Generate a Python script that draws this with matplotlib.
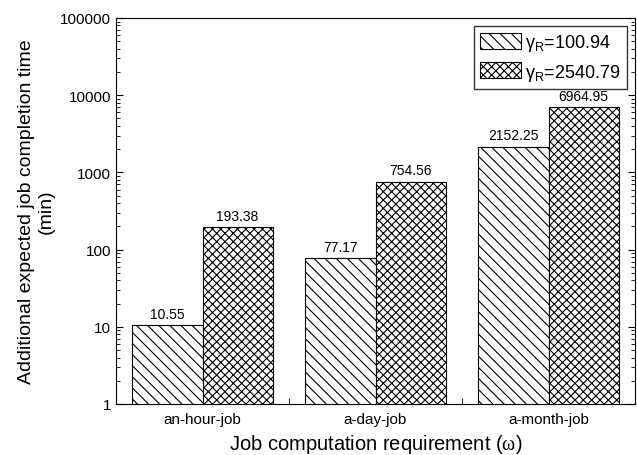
import numpy as np
import matplotlib
matplotlib.use('Agg')
import matplotlib.pyplot as plt
from matplotlib.ticker import LogLocator, NullFormatter, FixedLocator

plt.rcParams['font.family'] = ['Liberation Sans', 'DejaVu Sans']
plt.rcParams['mathtext.fontset'] = 'custom'
plt.rcParams['mathtext.rm'] = 'Liberation Sans'
plt.rcParams['mathtext.it'] = 'Liberation Serif'
plt.rcParams['hatch.linewidth'] = 0.8

categories = ['an-hour-job', 'a-day-job', 'a-month-job']
series_low = [10.55, 77.17, 2152.25]
series_high = [193.38, 754.56, 6964.95]
labels_low = ['10.55', '77.17', '2152.25']
labels_high = ['193.38', '754.56', '6964.95']
legend_names = [r'$\mathrm{\gamma_R}$=100.94', r'$\mathrm{\gamma_R}$=2540.79']

fig = plt.figure(figsize=(6.37, 4.56), dpi=100)
ax = fig.add_axes([116/637, 51/456, 519/637, 386/456])

x = np.arange(len(categories))
w = 0.405
ax.bar(x - w/2, series_low, w, color='white', edgecolor='black', hatch='\\\\\\', linewidth=0.8, label=legend_names[0])
ax.bar(x + w/2, series_high, w, color='white', edgecolor='black', hatch='xxxx', linewidth=0.8, label=legend_names[1])

for xi, v, s in zip(x - w/2, series_low, labels_low):
    ax.text(xi, v * 1.14, s, ha='center', va='bottom', fontsize=10)
for xi, v, s in zip(x + w/2, series_high, labels_high):
    ax.text(xi, v * 1.14, s, ha='center', va='bottom', fontsize=10)

ax.set_yscale('log')
ax.set_ylim(1, 100000)
ax.set_xlim(-0.5, 2.5)
ax.yaxis.set_major_locator(FixedLocator([1, 10, 100, 1000, 10000, 100000]))
ax.set_yticklabels(['1', '10', '100', '1000', '10000', '100000'])
ax.yaxis.set_minor_locator(LogLocator(base=10, subs=np.arange(2, 10)))
ax.yaxis.set_minor_formatter(NullFormatter())
ax.set_xticks(x)
ax.set_xticklabels(categories)
ax.set_xticks([0.5, 1.5], minor=True)
ax.tick_params(axis='y', which='major', direction='in', labelsize=11, length=5)
ax.tick_params(axis='y', which='minor', direction='in', length=3)
ax.tick_params(axis='x', which='major', length=0, pad=6, labelsize=11)
ax.tick_params(axis='x', which='minor', direction='in', length=4)
ax.tick_params(right=True, top=False, which='both')

ax.set_xlabel(r'Job computation requirement ($\omega$)', fontsize=14.5, va='top')
ax.xaxis.set_label_coords(0.5, -0.072)
ax.set_ylabel('Additional expected job completion time\n(min)', fontsize=14)

ax.legend(loc='upper right', fontsize=13, frameon=True, fancybox=False, edgecolor='black',
          handlelength=2.3, handleheight=1.0, borderpad=0.35, labelspacing=0.45,
          handletextpad=0.2, borderaxespad=0.45)

fig.savefig('out.png', dpi=100)
